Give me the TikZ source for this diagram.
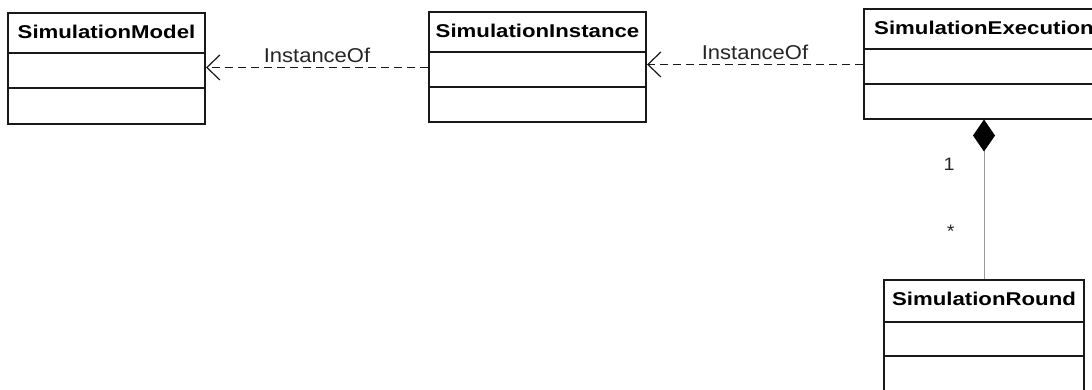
\documentclass[tikz,border=0pt]{standalone}
\usepackage{fontspec}
\usepackage{tikz}
\usetikzlibrary{shapes.multipart,arrows.meta,calc}
\newfontfamily\classfont[FakeStretch=1.2]{Liberation Sans}
\newfontfamily\labelfont[FakeStretch=1.1]{Liberation Sans}
\newcommand\classtitle[1]{\rule[-13.5pt]{0pt}{37.5pt}#1}
\newcommand\classrow[1][33.5pt]{\rule{0pt}{#1}}

\tikzset{
  classbox/.style={rectangle split, rectangle split parts=3, draw=black!90,
    line width=2pt, inner xsep=0pt, inner ysep=0pt, align=center,
    anchor=north west, font=\classfont\bfseries\fontsize{18.5}{20}\selectfont},
  instof/.style={dash pattern=on 8pt off 5pt, line width=1.5pt, black!90,
    -{Straight Barb[length=13pt,width=25pt,line width=1.2pt]}},
  edgelabel/.style={font=\labelfont\fontsize{20}{22}\selectfont, text=black!85,
    inner sep=1pt},
}

\begin{document}
\begin{tikzpicture}[x=1pt,y=-1pt]
\path[use as bounding box, clip] (0,0) rectangle (1092,389);
\fill[white] (0,0) rectangle (1092,389);

\node[classbox, text width=197pt] (model) at (7,12)
  {\classtitle{SimulationModel}\nodepart{two}\classrow\nodepart{three}\classrow};
\node[classbox, text width=217pt] (instance) at (428,11)
  {\classtitle{SimulationInstance}\nodepart{two}\classrow\nodepart{three}\classrow[32.5pt]};
\node[classbox, text width=240pt] (execution) at (863,8)
  {\classtitle{SimulationExecution}\nodepart{two}\classrow\nodepart{three}\classrow[32.5pt]};
\node[classbox, text width=200pt] (round) at (883,279)
  {\rule[-15pt]{0pt}{39.5pt}SimulationRound\nodepart{two}\classrow[32.5pt]\nodepart{three}\classrow};

\coordinate (p1) at ($(instance.text split west)!.45!(instance.two split west)$);
\coordinate (p2) at ($(execution.text split west)!.45!(execution.two split west)$);

\draw[instof] (p1) -- (p1 -| model.east)
  node[edgelabel, midway, above=3pt] (lab1) {InstanceOf};
\draw[instof] (p2) -- (p2 -| instance.east)
  node[edgelabel, midway, above=3pt] (lab2) {InstanceOf};

\draw[gray!80, line width=0.8pt, -{Diamond[length=32pt,width=22pt,black,fill=black]}]
  (round.north) -- (execution.south)
  node[edgelabel, pos=.3, left=28pt, font=\labelfont\fontsize{18}{20}\selectfont] (many) {*}
  node[edgelabel, pos=.72, left=28pt, font=\labelfont\fontsize{18}{20}\selectfont] (one) {1};
\end{tikzpicture}
\end{document}
